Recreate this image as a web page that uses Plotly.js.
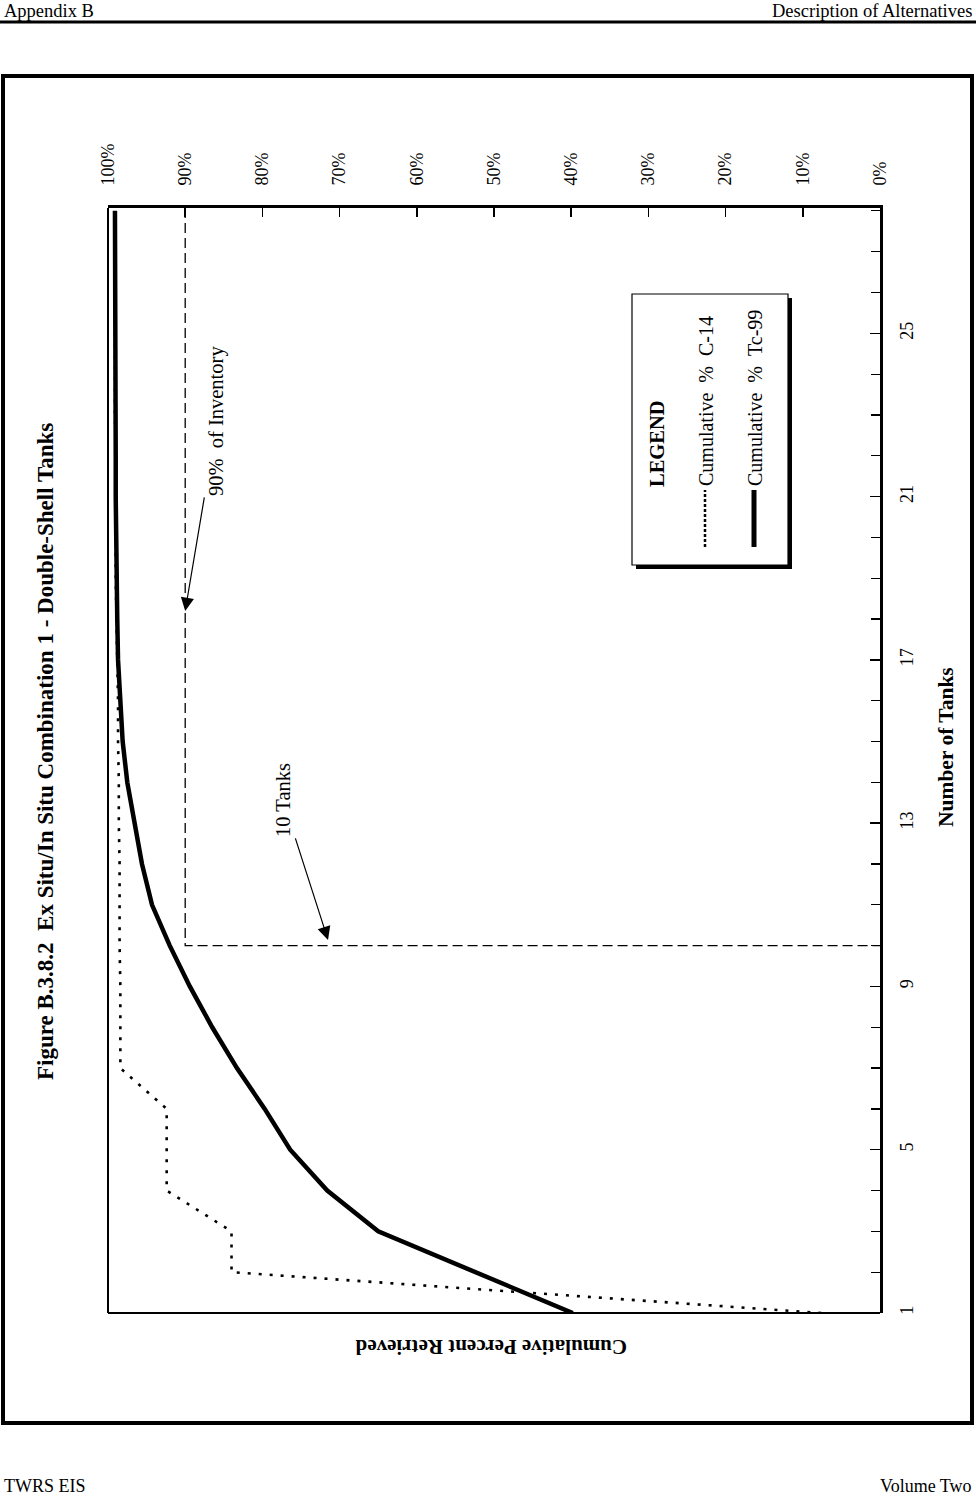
<!DOCTYPE html>
<html>
<head>
<meta charset="utf-8">
<script src="https://cdn.plot.ly/plotly-3.0.1.min.js"></script>
<style>html,body{margin:0;padding:0;background:#fff;}#chart{width:976px;height:1500px;}</style>
</head>
<body>
<div id="chart"></div>
<script>
// ---- data ----
const tanks = [1,2,3,4,5,6,7,8,9,10,11,12,13,14,15,16,17,18,19,20,21,22,23,24,25,26,27,28];
const tc99 = [39.8,52.4,65.0,71.6,76.4,79.7,83.3,86.5,89.4,92.0,94.3,95.6,96.6,97.5,98.1,98.4,98.7,98.8,98.9,98.9,99.0,99.0,99.0,99.0,99.1,99.1,99.1,99.1];
const c14 = [7.6,84.0,84.0,92.4,92.4,92.4,98.4,98.4,98.4,98.5,98.5,98.5,98.6,98.6,98.7,98.7,98.8,98.9,99.0,99.0,99.0,99.0,99.1,99.1,99.1,99.1,99.1,99.1];
const seriesNames = ['Cumulative % C-14', 'Cumulative % Tc-99'];
const pctTicks = [0,10,20,30,40,50,60,70,80,90,100];
const pctLabels = ['0%','10%','20%','30%','40%','50%','60%','70%','80%','90%','100%'];
const tankTicks = [1,5,9,13,17,21,25];
const tankLabels = ['1','5','9','13','17','21','25'];
const refPercent = 90;      // 90% of inventory
const refTanks = 10;        // 10 tanks
const tankMax = 28.07;
const arrowInv = {pct: 90, tank: 18.2};
const arrowTanks = {pct: 71.5, tank: 10.14};

// ---- layout helpers (pixel -> paper) ----
const L = 108, R = 880, T = 208, B = 1313;
const px = x => (x - L) / (R - L);
const py = y => (B - y) / (B - T);
const FONT = 'Liberation Serif, Times New Roman, serif';

const traces = [
  {x: c14, y: tanks, type: 'scatter', mode: 'lines', name: seriesNames[0],
   line: {color: '#000', width: 2.6, dash: '3px,8px'}, hoverinfo: 'skip'},
  {x: tc99, y: tanks, type: 'scatter', mode: 'lines', name: seriesNames[1],
   line: {color: '#000', width: 4.5}, hoverinfo: 'skip'},
  {x: [refPercent, refPercent, 0], y: [tankMax, refTanks, refTanks], type: 'scatter', mode: 'lines',
   line: {color: '#000', width: 1.3, dash: '10px,5px'}, hoverinfo: 'skip', showlegend: false}
];

const shapes = [
  {type: 'rect', xref: 'paper', yref: 'paper', x0: px(3), x1: px(972), y0: py(1423), y1: py(76),
   line: {color: '#000', width: 4}},
  {type: 'line', xref: 'paper', yref: 'paper', x0: px(0), x1: px(976), y0: py(22), y1: py(22),
   line: {color: '#000', width: 3}},
  {type: 'line', xref: 'paper', yref: 'paper', x0: 0, x1: 0, y0: 0, y1: 1, line: {color: '#000', width: 2}},
  {type: 'line', xref: 'paper', yref: 'paper', x0: 0, x1: 1, y0: 0, y1: 0, line: {color: '#000', width: 2}},
  {type: 'rect', xref: 'paper', yref: 'paper', x0: px(636), x1: px(792), y0: py(569), y1: py(298),
   fillcolor: '#000', line: {width: 0}},
  {type: 'rect', xref: 'paper', yref: 'paper', x0: px(632), x1: px(788), y0: py(565), y1: py(294),
   fillcolor: '#fff', line: {color: '#000', width: 1.2}},
  {type: 'line', xref: 'paper', yref: 'paper', x0: px(705), x1: px(705), y0: py(547), y1: py(490),
   line: {color: '#000', width: 2.5, dash: '3px,2px'}},
  {type: 'line', xref: 'paper', yref: 'paper', x0: px(754), x1: px(754), y0: py(547), y1: py(490),
   line: {color: '#000', width: 5}}
];

const annotations = [
  {xref: 'paper', yref: 'paper', x: px(2), y: py(11), xanchor: 'left', yanchor: 'middle', showarrow: false,
   text: 'Appendix B', font: {family: FONT, size: 18.5, color: '#000'}},
  {xref: 'paper', yref: 'paper', x: px(974), y: py(11), xanchor: 'right', yanchor: 'middle', showarrow: false,
   text: 'Description of Alternatives', font: {family: FONT, size: 18.5, color: '#000'}},
  {xref: 'paper', yref: 'paper', x: px(2), y: py(1486), xanchor: 'left', yanchor: 'middle', showarrow: false,
   text: 'TWRS EIS', font: {family: FONT, size: 18, color: '#000'}},
  {xref: 'paper', yref: 'paper', x: px(974), y: py(1486), xanchor: 'right', yanchor: 'middle', showarrow: false,
   text: 'Volume Two', font: {family: FONT, size: 18, color: '#000'}},
  {xref: 'paper', yref: 'paper', x: px(45), y: py(752), xanchor: 'center', yanchor: 'middle', showarrow: false,
   textangle: -90, text: '<b>Figure B.3.8.2\u00a0\u00a0Ex Situ/In Situ Combination 1 - Double-Shell Tanks</b>',
   font: {family: FONT, size: 23, color: '#000'}},
  {xref: 'paper', yref: 'paper', x: px(491), y: py(1347), xanchor: 'center', yanchor: 'middle', showarrow: false,
   textangle: 180, text: '<b>Cumulative Percent Retrieved</b>', font: {family: FONT, size: 21, color: '#000'}},
  {xref: 'paper', yref: 'paper', x: px(946), y: py(747), xanchor: 'center', yanchor: 'middle', showarrow: false,
   textangle: -90, text: '<b>Number of Tanks</b>', font: {family: FONT, size: 21.5, color: '#000'}},
  {x: arrowInv.pct, y: arrowInv.tank, xref: 'x', yref: 'y', ax: 32, ay: -190, showarrow: true,
   arrowhead: 2, arrowsize: 2.2, arrowwidth: 1.2, arrowcolor: '#000', textangle: -90,
   text: '90%\u00a0 of Inventory', font: {family: FONT, size: 20.5, color: '#000'}},
  {x: arrowTanks.pct, y: arrowTanks.tank, xref: 'x', yref: 'y', ax: -45, ay: -140, showarrow: true,
   arrowhead: 2, arrowsize: 2.2, arrowwidth: 1.2, arrowcolor: '#000', textangle: -90,
   text: '10 Tanks', font: {family: FONT, size: 20.5, color: '#000'}},
  {xref: 'paper', yref: 'paper', x: px(657), y: py(444), xanchor: 'center', yanchor: 'middle', showarrow: false,
   textangle: -90, text: '<b>LEGEND</b>', font: {family: FONT, size: 20.5, color: '#000'}},
  {xref: 'paper', yref: 'paper', x: px(706), y: py(488), xanchor: 'center', yanchor: 'bottom', showarrow: false,
   textangle: -90, text: seriesNames[0].replace('% ', '%\u00a0\u00a0').replace(' %', '\u00a0\u00a0%'),
   font: {family: FONT, size: 20, color: '#000'}},
  {xref: 'paper', yref: 'paper', x: px(755), y: py(488), xanchor: 'center', yanchor: 'bottom', showarrow: false,
   textangle: -90, text: seriesNames[1].replace('% ', '%\u00a0\u00a0').replace(' %', '\u00a0\u00a0%'),
   font: {family: FONT, size: 20, color: '#000'}}
];

const layout = {
  width: 976, height: 1500,
  margin: {l: L, r: 976 - R, t: T, b: 1500 - B},
  paper_bgcolor: '#fff', plot_bgcolor: '#fff',
  showlegend: false,
  font: {family: FONT, color: '#000'},
  xaxis: {
    range: [100, 0], side: 'top', tickmode: 'array', tickvals: pctTicks, ticktext: pctLabels,
    tickangle: -90, ticks: 'inside', ticklen: 9, tickwidth: 1.5, tickcolor: '#000',
    ticklabelstandoff: 16,
    showline: true, linewidth: 3, linecolor: '#000', showgrid: false, zeroline: false,
    tickfont: {family: FONT, size: 18, color: '#000'}, fixedrange: true
  },
  yaxis: {
    range: [1, tankMax], side: 'right', tickmode: 'array', tickvals: tankTicks, ticktext: tankLabels,
    tickangle: -90, ticks: 'inside', ticklen: 10, tickwidth: 1.5, tickcolor: '#000',
    ticklabelstandoff: 8,
    minor: {dtick: 1, tick0: 1, ticks: 'inside', ticklen: 9, tickwidth: 1.2, tickcolor: '#000', showgrid: false},
    showline: true, linewidth: 3, linecolor: '#000', showgrid: false, zeroline: false,
    tickfont: {family: FONT, size: 18, color: '#000'}, fixedrange: true
  },
  shapes: shapes,
  annotations: annotations
};

Plotly.newPlot('chart', traces, layout, {staticPlot: true, displayModeBar: false});
</script>
</body>
</html>
